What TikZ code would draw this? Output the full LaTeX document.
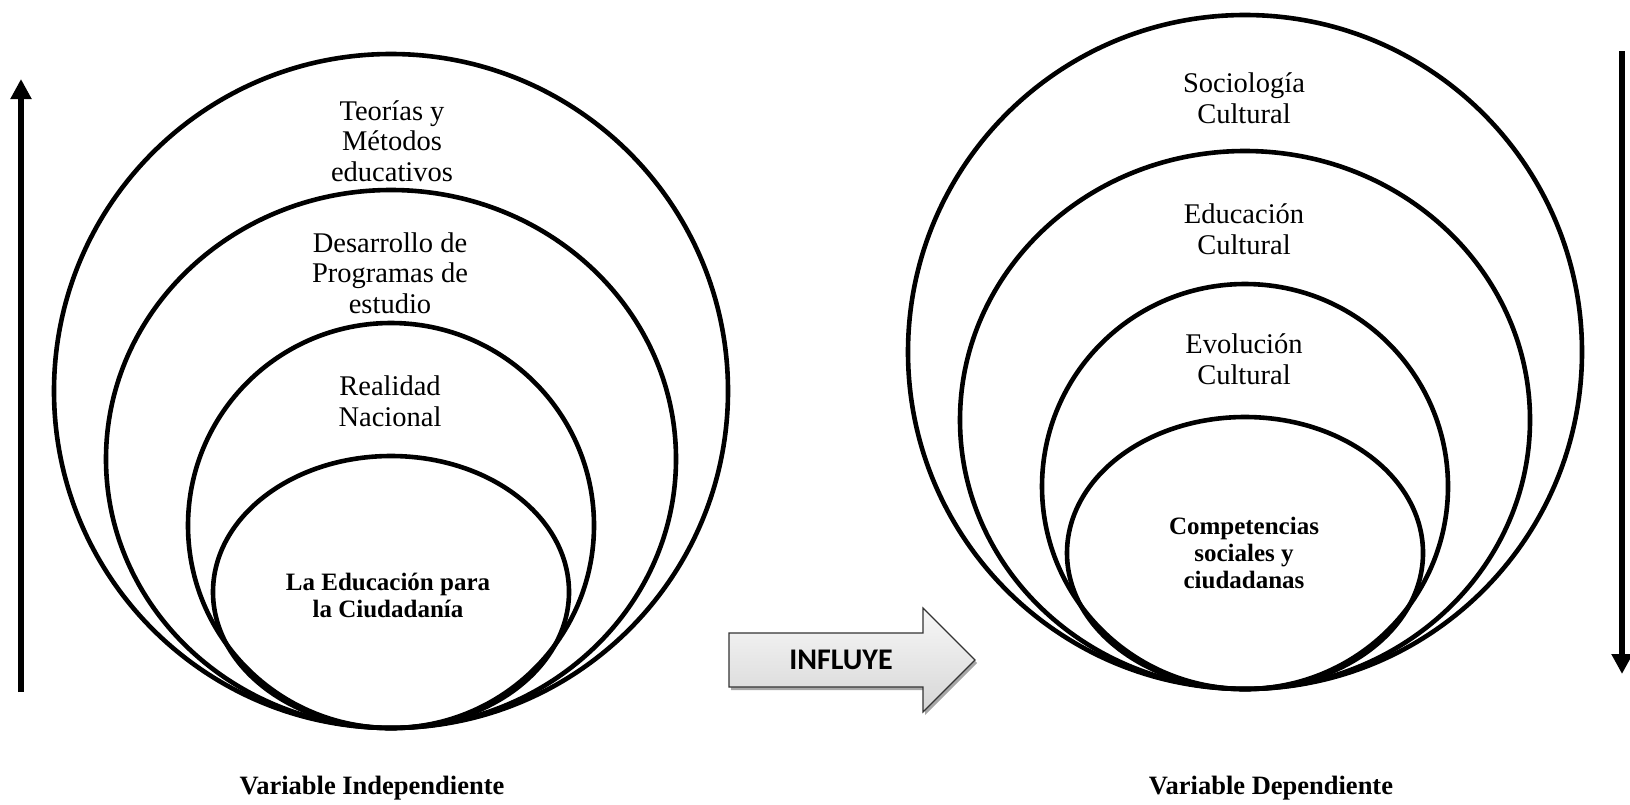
\documentclass[tikz,border=0pt]{standalone}
\usepackage{fontspec}
\setmainfont{Liberation Serif}
\newfontfamily\calibri{Carlito}
\usetikzlibrary{calc, arrows.meta, shadows}

\begin{document}
\begin{tikzpicture}[x=1pt, y=-1pt,
    ring/.style={line width=4.6pt},
    txt/.style={font=\fontsize{28.5}{30.5}\selectfont, align=center, inner sep=0pt},
    core/.style={font=\bfseries\fontsize{25}{27}\selectfont, align=center, inner sep=0pt},
    varlabel/.style={font=\bfseries\fontsize{26.5}{28}\selectfont, inner sep=0pt},
    bigarrow/.style={line width=5.5pt, -{Triangle[length=20pt,width=20pt]}}]
    \useasboundingbox (0,0) rectangle (1630,804);

    \coordinate (L) at (391,728);
    \coordinate (R) at (1245,689);

    \foreach \b in {L,R}
        \foreach \rx/\ry in {337/337, 285/269, 203/202.5, 178/136}
            \draw[ring] ($(\b)+(0,-\ry)$) ellipse [x radius=\rx, y radius=\ry];

    \node[txt] (teorias) at (392,141) {Teorías y\\Métodos\\educativos};
    \node[txt] (desarrollo) at (390,273) {Desarrollo de\\Programas de\\estudio};
    \node[txt] (realidad) at (390,401) {Realidad\\Nacional};
    \node[core] (ciudadania) at (388,595) {La Educación para\\la Ciudadanía};

    \node[txt] (sociologia) at (1244,98) {Sociología\\Cultural};
    \node[txt] (educacion) at (1244,229) {Educación\\Cultural};
    \node[txt] (evolucion) at (1244,359) {Evolución\\Cultural};
    \node[core] (competencias) at (1244,553) {Competencias\\sociales y\\ciudadanas};

    \node[varlabel] (indep) at (372,788) {Variable Independiente};
    \node[varlabel] (dep) at (1271,788) {Variable Dependiente};

    \coordinate (upS) at (21,692);
    \coordinate (upE) at (21,79);
    \coordinate (downS) at (1622,51);
    \coordinate (downE) at (1622,674);
    \draw[bigarrow] (upS) -- (upE);
    \draw[bigarrow] (downS) -- (downE);

    \draw[draw=black!80, line width=1.2pt, top color=gray!6, bottom color=gray!32,
        drop shadow={shadow xshift=2pt, shadow yshift=-3pt, fill=gray!70, opacity=1}]
        (729,633) -- (923,633) -- (923,608) -- (975,660) -- (923,712)
        -- (923,687) -- (729,687) -- cycle;
    \node[font=\calibri\bfseries\fontsize{30}{32}\selectfont, inner sep=0pt] (influye) at (841,660) {INFLUYE};
\end{tikzpicture}
\end{document}
